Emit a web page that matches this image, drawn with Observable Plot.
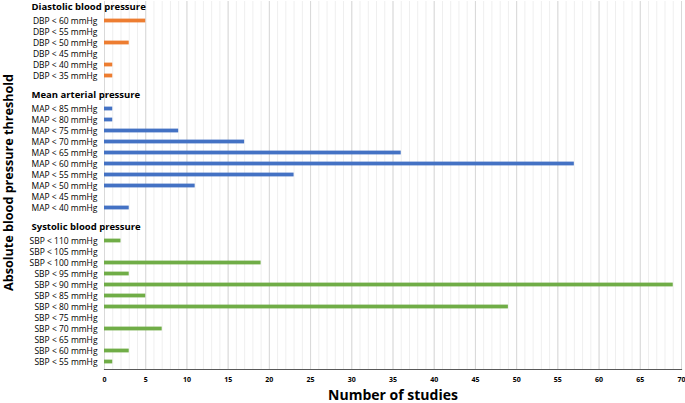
<!DOCTYPE html>
<html>
<head>
<meta charset="utf-8">
<script src="https://cdn.jsdelivr.net/npm/d3@7"></script>
<script src="https://cdn.jsdelivr.net/npm/@observablehq/plot@0.6"></script>
<style>
  html, body { margin: 0; padding: 0; background: #fff; }
  #chart svg { display: block; }
</style>
</head>
<body>
<div id="chart"></div>
<script>
const groupNames = ["Diastolic blood pressure", "Mean arterial pressure", "Systolic blood pressure"];
const groupColors = ["#ED7D31", "#4472C4", "#70AD47"];

const dbpLabels = ["DBP < 60 mmHg", "DBP < 55 mmHg", "DBP < 50 mmHg", "DBP < 45 mmHg", "DBP < 40 mmHg", "DBP < 35 mmHg"];
const dbpValues = [5, 0, 3, 0, 1, 1];

const mapLabels = ["MAP < 85 mmHg", "MAP < 80 mmHg", "MAP < 75 mmHg", "MAP < 70 mmHg", "MAP < 65 mmHg",
                   "MAP < 60 mmHg", "MAP < 55 mmHg", "MAP < 50 mmHg", "MAP < 45 mmHg", "MAP < 40 mmHg"];
const mapValues = [1, 1, 9, 17, 36, 57, 23, 11, 0, 3];

const sbpLabels = ["SBP < 110 mmHg", "SBP < 105 mmHg", "SBP < 100 mmHg", "SBP < 95 mmHg", "SBP < 90 mmHg",
                   "SBP < 85 mmHg", "SBP < 80 mmHg", "SBP < 75 mmHg", "SBP < 70 mmHg", "SBP < 65 mmHg",
                   "SBP < 60 mmHg", "SBP < 55 mmHg"];
const sbpValues = [2, 0, 19, 3, 69, 5, 49, 0, 7, 0, 3, 1];

const xTickValues = [0, 5, 10, 15, 20, 25, 30, 35, 40, 45, 50, 55, 60, 65, 70];
const xMinorTicks = Array.from({length: 71}, (_, i) => i);

const xTitle = "Number of studies";
const yTitle = "Absolute blood pressure threshold";

// build row table: header row, data rows, blank row between groups
const groupsData = [
  {labels: dbpLabels, values: dbpValues},
  {labels: mapLabels, values: mapValues},
  {labels: sbpLabels, values: sbpValues}
];
const rows = [];
const headers = [];
groupsData.forEach((g, gi) => {
  if (gi > 0) rows.push({id: "r" + rows.length, label: "", value: null, group: gi});
  const hid = "r" + rows.length;
  rows.push({id: hid, label: "", value: null, group: gi});
  headers.push({id: hid, text: groupNames[gi]});
  g.labels.forEach((l, i) => {
    rows.push({id: "r" + rows.length, label: l, value: g.values[i], group: gi});
  });
});
const bars = rows.filter(r => r.value != null && r.value > 0);
const labelById = new Map(rows.map(r => [r.id, r.label]));

const chart = Plot.plot({
  width: 685,
  height: 403,
  marginLeft: 104,
  marginRight: 4,
  marginTop: 1,
  marginBottom: 34,
  style: {fontFamily: "'Open Sans', sans-serif", fontSize: "9px", color: "#000", background: "#fff"},
  x: {domain: [0, 70], axis: null},
  y: {domain: rows.map(r => r.id), axis: null, padding: 0},
  color: {domain: [0, 1, 2], range: groupColors},
  marks: [
    Plot.ruleX(xMinorTicks, {stroke: "#efefef", strokeWidth: 1}),
    Plot.ruleX(xTickValues, {stroke: "#d9d9d9", strokeWidth: 1}),
    Plot.barX(bars, {x: "value", y: "id", fill: d => d.group, insetTop: 3.6, insetBottom: 3.6}),
    Plot.frame({anchor: "bottom", stroke: "#595959", strokeWidth: 1.2}),
    Plot.axisX({ticks: xTickValues, tickSize: 0, tickPadding: 8, tickFormat: d => String(d),
                fontWeight: "bold", fontSize: 7, label: null}),
    Plot.axisY({tickSize: 0, tickPadding: 7, tickFormat: d => labelById.get(d), label: null, fontSize: 8.5}),
    Plot.text(headers, {x: () => 0, y: "id", text: "text", textAnchor: "start", dx: -73, dy: -3,
                        fontWeight: "bold", fontSize: 9.5}),
    Plot.text([xTitle], {frameAnchor: "bottom", lineAnchor: "bottom", dy: 30, fontWeight: "bold", fontSize: 14}),
    Plot.text([yTitle], {frameAnchor: "left", textAnchor: "middle", lineAnchor: "middle", dx: -96, dy: -3,
                         rotate: -90, fontWeight: "bold", fontSize: 12.6})
  ]
});
document.getElementById("chart").appendChild(chart);
</script>
</body>
</html>
